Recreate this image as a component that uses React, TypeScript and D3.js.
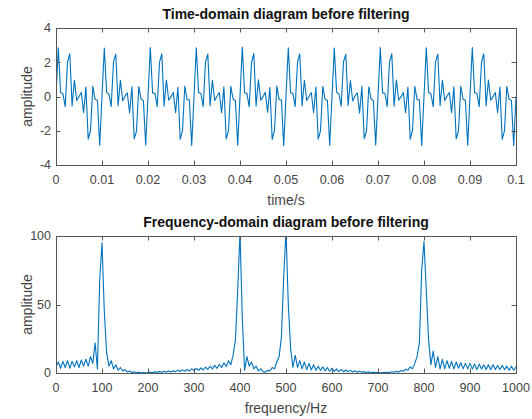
import React, { useEffect, useRef } from "react";
import * as d3 from "d3";

const width = 532;
const height = 419;

// sampling: 2000 Hz, 0 .. 0.1 s
const sampleRate = 2000;
const freqStep = 5;

const timeTicks = [0, 0.01, 0.02, 0.03, 0.04, 0.05, 0.06, 0.07, 0.08, 0.09, 0.1];
const ampTicks = [-4, -2, 0, 2, 4];
const freqTicks = [0, 100, 200, 300, 400, 500, 600, 700, 800, 900, 1000];
const specTicks = [0, 50, 100];

// time-domain samples (one row = 0.01 s)
const signal = [
  0, 2.85, 0.22, 0.17, -0.59, 2.0, 2.49, -0.55, 0.95, -0.23, 0.0, 0.23, -0.95, 0.55, -2.49, -2.0, 0.59, -0.17, -0.22, -2.85,
  0.01, 2.83, 0.24, 0.15, -0.58, 2.02, 2.47, -0.53, 0.94, -0.25, 0.02, 0.22, -0.96, 0.57, -2.47, -2.02, 0.58, -0.15, -0.24, -2.83,
  -0.01, 2.86, 0.21, 0.18, -0.6, 1.99, 2.5, -0.56, 0.96, -0.22, -0.01, 0.24, -0.94, 0.54, -2.5, -1.99, 0.6, -0.18, -0.21, -2.86,
  0.02, 2.84, 0.23, 0.16, -0.59, 2.01, 2.48, -0.54, 0.95, -0.24, 0.01, 0.23, -0.95, 0.56, -2.48, -2.01, 0.59, -0.16, -0.23, -2.84,
  0.0, 2.87, 0.2, 0.18, -0.61, 1.98, 2.51, -0.57, 0.97, -0.21, -0.02, 0.25, -0.93, 0.53, -2.51, -1.98, 0.61, -0.18, -0.2, -2.87,
  0.01, 2.85, 0.22, 0.17, -0.58, 2.0, 2.49, -0.55, 0.95, -0.23, 0.0, 0.23, -0.95, 0.55, -2.49, -2.0, 0.59, -0.17, -0.22, -2.85,
  -0.02, 2.83, 0.24, 0.15, -0.57, 2.03, 2.46, -0.52, 0.93, -0.26, 0.03, 0.21, -0.97, 0.58, -2.46, -2.03, 0.57, -0.14, -0.25, -2.83,
  0.01, 2.86, 0.21, 0.19, -0.6, 1.99, 2.5, -0.56, 0.96, -0.22, -0.01, 0.24, -0.94, 0.54, -2.5, -1.98, 0.6, -0.18, -0.21, -2.86,
  0.0, 2.84, 0.23, 0.16, -0.59, 2.01, 2.48, -0.54, 0.95, -0.24, 0.01, 0.23, -0.95, 0.56, -2.48, -2.01, 0.59, -0.16, -0.23, -2.84,
  0.02, 2.86, 0.22, 0.18, -0.6, 1.99, 2.5, -0.55, 0.96, -0.22, -0.01, 0.24, -0.94, 0.55, -2.5, -1.99, 0.6, -0.17, -0.22, -2.86,
  0.0,
];

// magnitude spectrum, 5 Hz per bin (one row = 50 Hz)
const spectrum = [
  4.5, 8.0, 3.5, 8.5, 4.0, 9.0, 3.5, 8.5, 4.5, 9.0,
  4.0, 9.5, 5.0, 10.0, 5.0, 12.0, 7.0, 22.0, 3.0, 68.0,
  95.0, 45.0, 15.0, 5.0, 9.0, 3.0, 6.0, 2.0, 4.0, 1.5,
  2.5, 0.8, 1.5, 0.4, 0.8, 0.3, 0.5, 0.2, 0.4, 0.2,
  0.3, 0.6, 0.4, 0.8, 0.5, 1.0, 0.6, 1.2, 0.7, 1.4,
  0.8, 1.7, 1.0, 2.0, 1.1, 2.3, 1.3, 2.6, 1.5, 3.0,
  1.7, 3.4, 2.0, 3.8, 2.2, 4.3, 2.6, 4.9, 3.0, 5.6,
  3.4, 6.4, 4.0, 7.5, 4.8, 9.0, 6.0, 13.0, 24.0, 60.0,
  103.0, 40.0, 2.0, 12.0, 5.0, 8.0, 3.0, 5.0, 1.5, 3.0,
  1.0, 0.5, 2.0, 1.5, 4.0, 3.0, 8.0, 12.0, 26.0, 70.0,
  104.0, 50.0, 18.0, 4.0, 13.0, 4.0, 9.0, 3.0, 8.0, 2.5,
  7.0, 2.2, 6.0, 2.0, 5.0, 1.8, 4.5, 1.5, 4.0, 1.3,
  3.5, 1.2, 3.0, 1.0, 2.6, 0.9, 2.2, 0.8, 1.9, 0.7,
  1.6, 0.6, 1.3, 0.5, 1.0, 0.4, 0.8, 0.3, 0.6, 0.3,
  0.4, 0.2, 0.4, 0.3, 0.6, 0.4, 0.9, 0.6, 1.2, 0.8,
  1.8, 1.2, 2.8, 2.0, 4.5, 3.0, 7.0, 12.0, 22.0, 75.0,
  96.0, 60.0, 24.0, 6.0, 16.0, 4.0, 12.0, 3.0, 10.0, 3.0,
  9.0, 3.5, 8.5, 3.0, 8.0, 3.5, 7.5, 3.0, 7.0, 3.0,
  7.0, 3.0, 6.5, 2.5, 6.5, 3.0, 6.0, 2.5, 6.0, 2.5,
  6.0, 2.5, 5.5, 2.5, 5.5, 2.5, 5.0, 2.0, 5.0, 2.0,
  4.5,
];

const left = 56;
const right = 516;
const panelH = 137;
const font = "'Liberation Sans', Arial, Helvetica, sans-serif";
const lineColor = "#0072BD";
const axisColor = "#555555";
const textColor = "#444444";

type Panel = {
  top: number;
  id: string;
  title: string;
  xLabel: string;
  xDomain: [number, number];
  yDomain: [number, number];
  xTicks: number[];
  yTicks: number[];
  values: number[];
  step: number;
};

const drawPanel = (svg: any, p: Panel) => {
  const bottom = p.top + panelH;
  const x = d3.scaleLinear().domain(p.xDomain).range([left, right]);
  const y = d3.scaleLinear().domain(p.yDomain).range([bottom, p.top]);
  const g = svg.append("g");

  g.append("clipPath")
    .attr("id", p.id)
    .append("rect")
    .attr("x", left)
    .attr("y", p.top)
    .attr("width", right - left)
    .attr("height", panelH);

  // signal line
  const line = d3
    .line<number>()
    .x((d, i) => x(i * p.step))
    .y((d) => y(d));
  g.append("path")
    .datum(p.values)
    .attr("clip-path", `url(#${p.id})`)
    .attr("fill", "none")
    .attr("stroke", lineColor)
    .attr("stroke-width", 1.1)
    .attr("stroke-linejoin", "round")
    .attr("d", line);

  // box
  g.append("rect")
    .attr("x", left + 0.5)
    .attr("y", p.top + 0.5)
    .attr("width", right - left)
    .attr("height", panelH)
    .attr("fill", "none")
    .attr("stroke", axisColor)
    .attr("stroke-width", 1);

  const tl = 4.5;
  // x ticks (bottom and top)
  p.xTicks.forEach((t) => {
    const xx = Math.round(x(t)) + 0.5;
    g.append("line").attr("x1", xx).attr("x2", xx).attr("y1", bottom).attr("y2", bottom - tl).attr("stroke", axisColor);
    g.append("line").attr("x1", xx).attr("x2", xx).attr("y1", p.top).attr("y2", p.top + tl).attr("stroke", axisColor);
    g.append("text")
      .attr("x", x(t))
      .attr("y", bottom + 19)
      .attr("text-anchor", "middle")
      .attr("font-size", 12.5)
      .attr("font-family", font)
      .attr("fill", textColor)
      .text(String(t));
  });

  // y ticks (left and right)
  p.yTicks.forEach((t) => {
    const yy = Math.round(y(t)) + 0.5;
    g.append("line").attr("x1", left).attr("x2", left + tl).attr("y1", yy).attr("y2", yy).attr("stroke", axisColor);
    g.append("line").attr("x1", right).attr("x2", right - tl).attr("y1", yy).attr("y2", yy).attr("stroke", axisColor);
    g.append("text")
      .attr("x", left - 5)
      .attr("y", y(t))
      .attr("dy", "0.35em")
      .attr("text-anchor", "end")
      .attr("font-size", 12.5)
      .attr("font-family", font)
      .attr("fill", textColor)
      .text(String(t));
  });

  // labels
  g.append("text")
    .attr("x", (left + right) / 2)
    .attr("y", bottom + 40)
    .attr("text-anchor", "middle")
    .attr("font-size", 14)
    .attr("font-family", font)
    .attr("fill", textColor)
    .text(p.xLabel);

  g.append("text")
    .attr("transform", `translate(27,${(p.top + bottom) / 2}) rotate(-90)`)
    .attr("dy", "0.35em")
    .attr("text-anchor", "middle")
    .attr("font-size", 14)
    .attr("font-family", font)
    .attr("fill", textColor)
    .text("amplitude");

  g.append("text")
    .attr("x", (left + right) / 2)
    .attr("y", p.top - 9)
    .attr("text-anchor", "middle")
    .attr("font-size", 14)
    .attr("font-weight", 700)
    .attr("font-family", font)
    .attr("fill", "#111")
    .text(p.title);
};

const App = () => {
  const ref = useRef<SVGSVGElement>(null);

  useEffect(() => {
    const svg = d3.select(ref.current);
    svg.selectAll("*").remove();
    svg.append("rect").attr("width", width).attr("height", height).attr("fill", "#fff");

    drawPanel(svg, {
      top: 28,
      id: "clip-time",
      title: "Time-domain diagram before filtering",
      xLabel: "time/s",
      xDomain: [0, 0.1],
      yDomain: [-4, 4],
      xTicks: timeTicks,
      yTicks: ampTicks,
      values: signal,
      step: 1 / sampleRate,
    });

    drawPanel(svg, {
      top: 236,
      id: "clip-freq",
      title: "Frequency-domain diagram before filtering",
      xLabel: "frequency/Hz",
      xDomain: [0, 1000],
      yDomain: [0, 100],
      xTicks: freqTicks,
      yTicks: specTicks,
      values: spectrum,
      step: freqStep,
    });
  }, []);

  return (
    <div style={{ position: "absolute", left: 0, top: 0 }}>
      <svg ref={ref} width={width} height={height} style={{ display: "block" }}></svg>
    </div>
  );
};

export default App;
